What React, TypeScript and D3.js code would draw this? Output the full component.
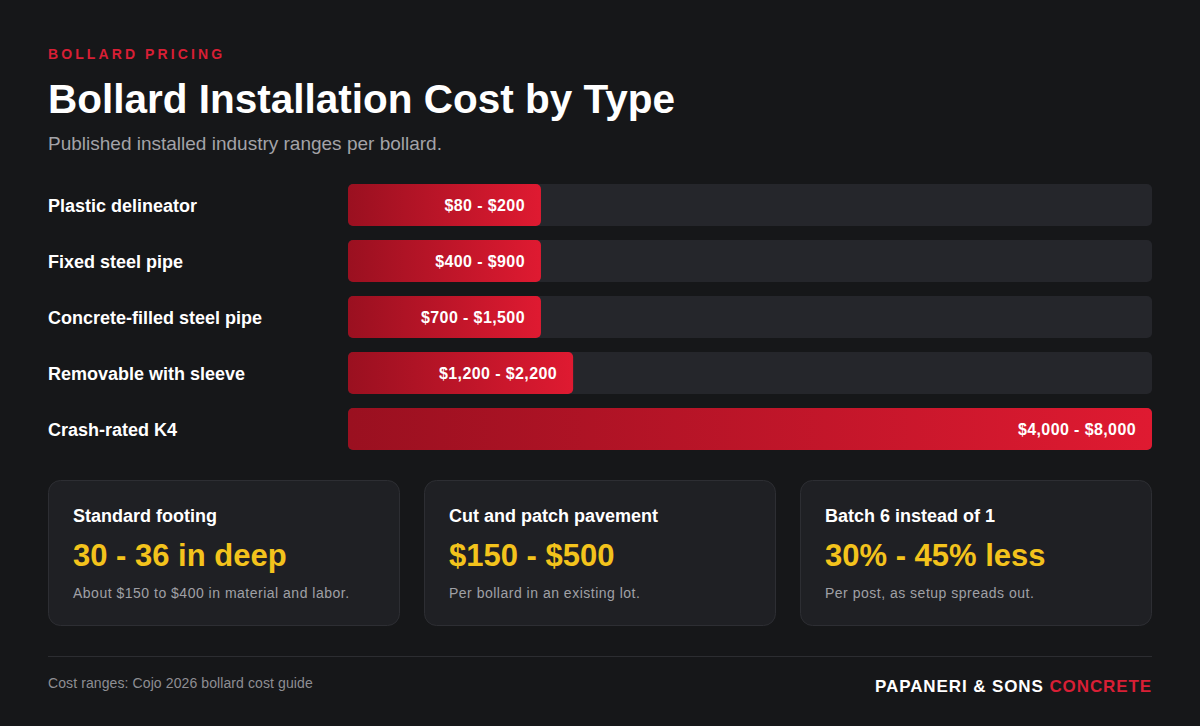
import React from "react";
import * as d3 from "d3";

const categories = [
  "Plastic delineator",
  "Fixed steel pipe",
  "Concrete-filled steel pipe",
  "Removable with sleeve",
  "Crash-rated K4",
];
const lowValues = [80, 400, 700, 1200, 4000];
const highValues = [200, 900, 1500, 2200, 8000];

const cardTitles = ["Standard footing", "Cut and patch pavement", "Batch 6 instead of 1"];
const cardValues = ["30 - 36 in deep", "$150 - $500", "30% - 45% less"];
const cardNotes = [
  "About $150 to $400 in material and labor.",
  "Per bollard in an existing lot.",
  "Per post, as setup spreads out.",
];

const W = 1200;
const H = 726;
const FONT = "'Liberation Sans', Arial, Helvetica, sans-serif";
const fmt = d3.format(",");

export default function App() {
  const maxVal = d3.max(highValues) as number;
  const trackX = 348;
  const trackW = 804;
  const bh = 42;
  const gap = 14;
  const pctScale = d3.scaleLinear().domain([0, 100]).range([0, trackW]);
  const y = d3
    .scaleBand<string>()
    .domain(categories)
    .range([184, 184 + bh * categories.length + gap * (categories.length - 1)])
    .paddingInner(gap / (bh + gap))
    .paddingOuter(0);

  const cardX = d3.scaleBand<number>().domain([0, 1, 2]).range([48, 1152 + 24]).paddingInner(0);

  return (
    <div style={{ position: "absolute", left: 0, top: 0, margin: 0 }}>
      <svg width={W} height={H} style={{ display: "block", fontFamily: FONT }}>
        <defs>
          <linearGradient id="barGrad" x1="0" x2="1" y1="0" y2="0">
            <stop offset="0%" stopColor="#9a1020" />
            <stop offset="100%" stopColor="#df1a31" />
          </linearGradient>
        </defs>
        <rect x={0} y={0} width={W} height={H} fill="#161719" />
        <text x={48} y={59} fill="#d81f35" fontSize={14} fontWeight={700} letterSpacing={3.1}>
          BOLLARD PRICING
        </text>
        <text x={48} y={113} fill="#ffffff" fontSize={40.5} fontWeight={700}>
          Bollard Installation Cost by Type
        </text>
        <text x={48} y={150} fill="#a3a3a8" fontSize={19}>
          Published installed industry ranges per bollard.
        </text>

        {categories.map((c, i) => {
          const yy = y(c) as number;
          const pct = Math.max(24, Math.round((highValues[i] / maxVal) * 100));
          const bw = pctScale(pct);
          return (
            <g key={c}>
              <text x={48} y={yy + bh / 2 + 7} fill="#ffffff" fontSize={18} fontWeight={700}>
                {c}
              </text>
              <rect x={trackX} y={yy} width={trackW} height={bh} rx={5} fill="#25262b" />
              <rect x={trackX} y={yy} width={bw} height={bh} rx={5} fill="url(#barGrad)" />
              <text
                x={trackX + bw - 16}
                y={yy + bh / 2 + 6}
                textAnchor="end"
                fill="#ffffff"
                fontSize={16}
                fontWeight={700}
                letterSpacing={0.4}
              >
                {`$${fmt(lowValues[i])} - $${fmt(highValues[i])}`}
              </text>
            </g>
          );
        })}

        {cardTitles.map((t, i) => {
          const cx = cardX(i) as number;
          return (
            <g key={t}>
              <rect
                x={cx + 0.5}
                y={480.5}
                width={351}
                height={145}
                rx={12}
                fill="#1f2024"
                stroke="#2d2e33"
              />
              <text x={cx + 25} y={522} fill="#ffffff" fontSize={18} fontWeight={700}>
                {t}
              </text>
              <text x={cx + 25} y={566} fill="#f3c31c" fontSize={31} fontWeight={700}>
                {cardValues[i]}
              </text>
              <text x={cx + 25} y={598} fill="#a0a0a6" fontSize={14} letterSpacing={0.5}>
                {cardNotes[i]}
              </text>
            </g>
          );
        })}

        <line x1={48} x2={1152} y1={656.5} y2={656.5} stroke="#2c2d31" />
        <text x={48} y={688} fill="#8e8e93" fontSize={14} letterSpacing={0.1}>
          Cost ranges: Cojo 2026 bollard cost guide
        </text>
        <text x={1152} y={692} textAnchor="end" fontSize={17} fontWeight={700} letterSpacing={0.9}>
          <tspan fill="#ffffff">PAPANERI &amp; SONS </tspan>
          <tspan fill="#d81f35">CONCRETE</tspan>
        </text>
      </svg>
    </div>
  );
}
